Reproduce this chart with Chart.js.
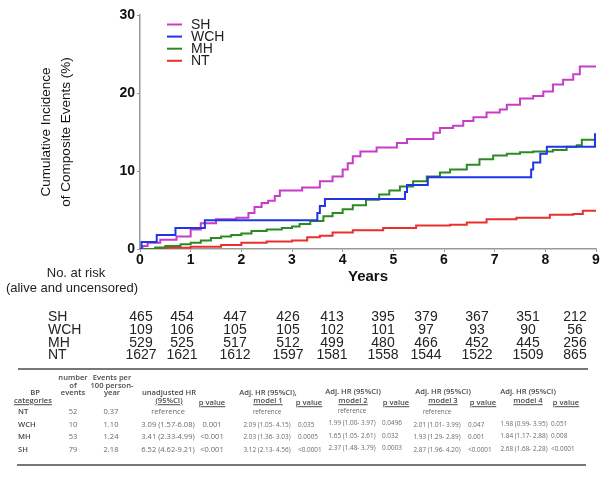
<!DOCTYPE html>
<html>
<head>
<meta charset="utf-8">
<script src="https://cdn.jsdelivr.net/npm/chart.js@4.4.1/dist/chart.umd.min.js"></script>
<style>
body { margin: 0; background: #fff; width: 616px; height: 478px; overflow: hidden; position: relative; font-family: "Liberation Sans", Arial, sans-serif; }
#wrap { position: absolute; left: 0; top: 0; width: 616px; height: 300px; }
.t { position: absolute; white-space: nowrap; line-height: 1; }
.risk { font-size: 14px; color: #222; }
.note { font-size: 13px; color: #222; }
.tb { font-family: "Open Sans", "Liberation Sans", sans-serif; color: #6a6a6a; font-size: 7.5px; }
.th { color: #4a4a4a; font-weight: 600; font-size: 7.6px; }
.u { text-decoration: underline; }
.sm { font-size: 6.4px; }
.rule { position: absolute; height: 2px; background: #777; }
</style>
</head>
<body>
<div id="wrap"><canvas id="kmChart" width="616" height="300"></canvas></div>
<div id="tables"></div>
<script>
// グループ名
var groups = ["SH", "WCH", "MH", "NT"];
var years = [0, 1, 2, 3, 4, 5, 6, 7, 8, 9];
var yTicks = [0, 10, 20, 30];

// 累積発生率 (%) の階段データ
var shTime = [0, 0.05, 0.15, 0.4, 0.72, 1.0, 1.2, 1.5, 1.9, 2.14, 2.26, 2.4, 2.53, 2.66, 2.76, 3.2, 3.55, 3.8, 4.0, 4.1, 4.2, 4.35, 4.67, 5.07, 5.27, 5.79, 5.92, 6.18, 6.38, 6.58, 6.84, 7.1, 7.24, 7.5, 7.76, 7.96, 8.15, 8.35, 8.55, 8.68, 9.0];
var shValue = [0, 0.4, 0.8, 1.2, 1.6, 2.5, 3.3, 3.8, 4.0, 4.6, 5.4, 5.9, 6.2, 6.8, 7.5, 7.9, 8.7, 9.3, 10.2, 11.0, 11.9, 12.5, 13.0, 13.6, 14.1, 14.9, 15.5, 15.8, 16.4, 16.9, 17.5, 17.9, 18.5, 19.3, 19.6, 20.2, 21.1, 21.7, 22.4, 23.4, 23.4];

var wchTime = [0, 0.03, 0.33, 0.70, 1.28, 3.5, 3.55, 3.65, 5.23, 5.27, 5.68, 7.72, 7.76, 7.9, 8.03, 8.98, 9.0];
var wchValue = [0, 0.9, 1.8, 2.7, 3.7, 4.6, 5.5, 6.4, 7.3, 8.2, 9.2, 10.2, 11.1, 12.2, 13.1, 14.7, 14.7];

var mhTime = [0, 0.3, 0.5, 0.8, 1.0, 1.2, 1.4, 1.6, 1.8, 2.0, 2.2, 2.5, 2.8, 3.0, 3.15, 3.36, 3.62, 3.8, 4.0, 4.2, 4.46, 4.72, 4.92, 5.13, 5.39, 5.66, 5.92, 6.12, 6.45, 6.7, 6.97, 7.24, 7.5, 7.76, 8.15, 8.42, 8.62, 8.72, 9.0];
var mhValue = [0, 0.2, 0.4, 0.6, 0.8, 1.1, 1.4, 1.6, 1.8, 2.0, 2.3, 2.5, 2.7, 2.9, 3.2, 3.6, 4.2, 4.6, 5.1, 5.6, 6.3, 7.0, 7.5, 8.0, 8.7, 9.3, 9.8, 10.2, 10.8, 11.5, 12.0, 12.2, 12.4, 12.5, 12.7, 13.1, 13.3, 14.0, 14.0];

var ntTime = [0, 0.5, 1.0, 1.6, 2.0, 2.5, 3.0, 3.3, 3.55, 3.8, 4.2, 4.8, 5.45, 6.12, 6.45, 6.84, 7.43, 8.09, 8.55, 8.74, 9.0];
var ntValue = [0, 0.15, 0.3, 0.5, 0.8, 0.95, 1.1, 1.5, 1.7, 2.1, 2.4, 2.7, 3.0, 3.1, 3.4, 3.8, 4.0, 4.4, 4.5, 4.9, 5.0];

// No. at risk
var riskSH = [465, 454, 447, 426, 413, 395, 379, 367, 351, 212];
var riskWCH = [109, 106, 105, 105, 102, 101, 97, 93, 90, 56];
var riskMH = [529, 525, 517, 512, 499, 480, 466, 452, 445, 256];
var riskNT = [1627, 1621, 1612, 1597, 1581, 1558, 1544, 1522, 1509, 865];

// 下の表
var bpCategories = ["NT", "WCH", "MH", "SH"];
var numEvents = ["52", "10", "53", "79"];
var eventsPer100 = ["0.37", "1.10", "1.24", "2.18"];
var unadjHR = ["reference", "3.09 (1.57-6.08)", "3.41 (2.33-4.99)", "6.52 (4.62-9.21)"];
var unadjP = ["", "0.001", "<0.001", "<0.001"];
var model1HR = ["reference", "2.09 (1.05- 4.15)", "2.03 (1.36- 3.03)", "3.12 (2.13- 4.56)"];
var model1P = ["", "0.035", "0.0005", "<0.0001"];
var model2HR = ["reference", "1.99 (1.00- 3.97)", "1.65 (1.05- 2.61)", "2.37 (1.48- 3.79)"];
var model2P = ["", "0.0496", "0.032", "0.0003"];
var model3HR = ["reference", "2.01 (1.01- 3.99)", "1.93 (1.29- 2.89)", "2.87 (1.96- 4.20)"];
var model3P = ["", "0.047", "0.001", "<0.0001"];
var model4HR = ["", "1.98 (0.99- 3.95)", "1.84 (1.17- 2.88)", "2.68 (1.68- 2.28)"];
var model4P = ["", "0.051", "0.008", "<0.0001"];

function toPoints(ts, vs) {
    return ts.map(function (t, i) { return { x: t, y: vs[i] }; });
}

function series(label, ts, vs, color, order) {
    return {
        label: label,
        data: toPoints(ts, vs),
        borderColor: color,
        borderWidth: 2,
        pointRadius: 0,
        stepped: true,
        fill: false,
        order: order
    };
}

// 凡例（グラフ内の左上）
var legendPlugin = {
    id: "insideLegend",
    afterDatasetsDraw: function (chart) {
        var ctx = chart.ctx;
        ctx.save();
        ctx.font = '14px "Liberation Sans", Arial, sans-serif';
        ctx.textBaseline = "middle";
        chart.data.datasets.forEach(function (ds, i) {
            var y = 24.5 + i * 12.1;
            ctx.strokeStyle = ds.borderColor;
            ctx.lineWidth = 2;
            ctx.beginPath();
            ctx.moveTo(167, y);
            ctx.lineTo(182, y);
            ctx.stroke();
            ctx.fillStyle = "#222";
            ctx.fillText(ds.label, 191, y + 0.5);
        });
        ctx.restore();
    }
};

var ctx = document.getElementById("kmChart");
var kmChart = new Chart(ctx, {
    type: "line",
    data: {
        datasets: [
            series(groups[0], shTime, shValue, "#c83cc8", 1),
            series(groups[1], wchTime, wchValue, "#1f36e6", 0),
            series(groups[2], mhTime, mhValue, "#2c8a22", 2),
            series(groups[3], ntTime, ntValue, "#e8302c", 3)
        ]
    },
    options: {
        responsive: false,
        devicePixelRatio: 1,
        animation: false,
        layout: { padding: { top: 15, right: 20, left: 0, bottom: 0 } },
        plugins: { legend: { display: false }, tooltip: { enabled: false } },
        scales: {
            x: {
                type: "linear",
                min: years[0],
                max: years[years.length - 1],
                afterBuildTicks: function (scale) {
                    scale.ticks = years.map(function (v) { return { value: v }; });
                },
                afterFit: function (scale) { scale.height = 51; },
                grid: { drawOnChartArea: false, drawTicks: true, tickLength: 3, color: "#999" },
                border: { display: true, color: "#999", width: 1.5 },
                ticks: { padding: 0, color: "#111", font: { family: "Liberation Sans", size: 14, weight: "bold" } },
                title: {
                    display: true,
                    text: "Years",
                    color: "#111",
                    font: { family: "Liberation Sans", size: 15, weight: "bold", lineHeight: 1.2 },
                    padding: { top: 0, bottom: 14 }
                }
            },
            y: {
                min: yTicks[0],
                max: yTicks[yTicks.length - 1],
                afterBuildTicks: function (scale) {
                    scale.ticks = yTicks.map(function (v) { return { value: v }; });
                },
                afterFit: function (scale) { scale.width = 140; },
                grid: { drawOnChartArea: false, drawTicks: true, tickLength: 3, color: "#999" },
                border: { display: true, color: "#999", width: 1.5 },
                ticks: { padding: 2, color: "#111", font: { family: "Liberation Sans", size: 14, weight: "bold" } },
                title: {
                    display: true,
                    text: ["Cumulative Incidence", "of Composite Events (%)"],
                    color: "#111",
                    font: { family: "Liberation Sans", size: 13.5, lineHeight: 1.5 },
                    padding: { top: 36, bottom: 0 }
                }
            }
        }
    },
    plugins: [legendPlugin]
});

// テキスト配置
var box = document.getElementById("tables");
function put(text, x, y, cls, align) {
    var el = document.createElement("div");
    el.className = "t " + cls;
    el.textContent = text;
    el.style.left = x + "px";
    el.style.top = y + "px";
    var tx = align === "left" ? "0" : (align === "right" ? "-100%" : "-50%");
    el.style.transform = "translate(" + tx + ",-50%)";
    box.appendChild(el);
    return el;
}
function rule(x1, x2, y) {
    var el = document.createElement("div");
    el.className = "rule";
    el.style.left = x1 + "px";
    el.style.width = (x2 - x1) + "px";
    el.style.top = (y - 1) + "px";
    box.appendChild(el);
}

put("No. at risk", 76, 272, "note");
put("(alive and uncensored)", 72, 287, "note");

var riskCols = [141, 182, 235, 288, 332, 383, 426, 477, 528, 575];
var riskRows = [riskSH, riskWCH, riskMH, riskNT];
riskRows.forEach(function (row, r) {
    var y = 316 + r * 12.8;
    put(groups[r], 48, y, "risk", "left");
    row.forEach(function (v, c) { put(String(v), riskCols[c], y, "risk"); });
});

rule(18, 588, 369);
rule(17, 586, 465);

// 表のヘッダー
put("number", 73, 378, "tb th"); put("of", 73, 385.5, "tb th"); put("events", 73, 393, "tb th");
put("Events per", 112, 378, "tb th"); put("100 person-", 112, 385.5, "tb th"); put("year", 112, 393, "tb th");
put("BP", 35, 393, "tb th");
put("categories", 33, 401, "tb th u");
put("unadjusted HR", 169, 393, "tb th"); put("(95%CI)", 169, 400.5, "tb th u");
put("p value", 212, 402.5, "tb th u");
put("Adj. HR (95%CI),", 268, 393, "tb th"); put("model 1", 268, 400.5, "tb th u");
put("p value", 309, 402.5, "tb th u");
put("Adj. HR (95%CI)", 353, 392, "tb th"); put("model 2", 353, 400.5, "tb th u");
put("p value", 396, 402.5, "tb th u");
put("Adj. HR (95%CI)", 443, 392, "tb th"); put("model 3", 443, 400.5, "tb th u");
put("p value", 483, 402.5, "tb th u");
put("Adj. HR (95%CI)", 528, 392, "tb th"); put("model 4", 528, 400.5, "tb th u");
put("p value", 566, 402.5, "tb th u");

var rowY = [412, 424.5, 437, 449.5];
bpCategories.forEach(function (cat, r) {
    var y = rowY[r];
    put(cat, 18, y, "tb th", "left");
    put(numEvents[r], 73, y, "tb");
    put(eventsPer100[r], 111, y, "tb");
    put(unadjHR[r], 168, y, "tb");
    put(unadjP[r], 212, y, "tb");
    put(model1HR[r], 267, y, "tb sm");
    put(model1P[r], 298, y, "tb sm", "left");
    put(model2HR[r], 352, y - 1.5, "tb sm");
    put(model2P[r], 382, y - 1.5, "tb sm", "left");
    put(model3HR[r], 437, y, "tb sm");
    put(model3P[r], 468, y, "tb sm", "left");
    put(model4HR[r], 524, y - 1, "tb sm");
    put(model4P[r], 551, y - 1, "tb sm", "left");
});
</script>
</body>
</html>
